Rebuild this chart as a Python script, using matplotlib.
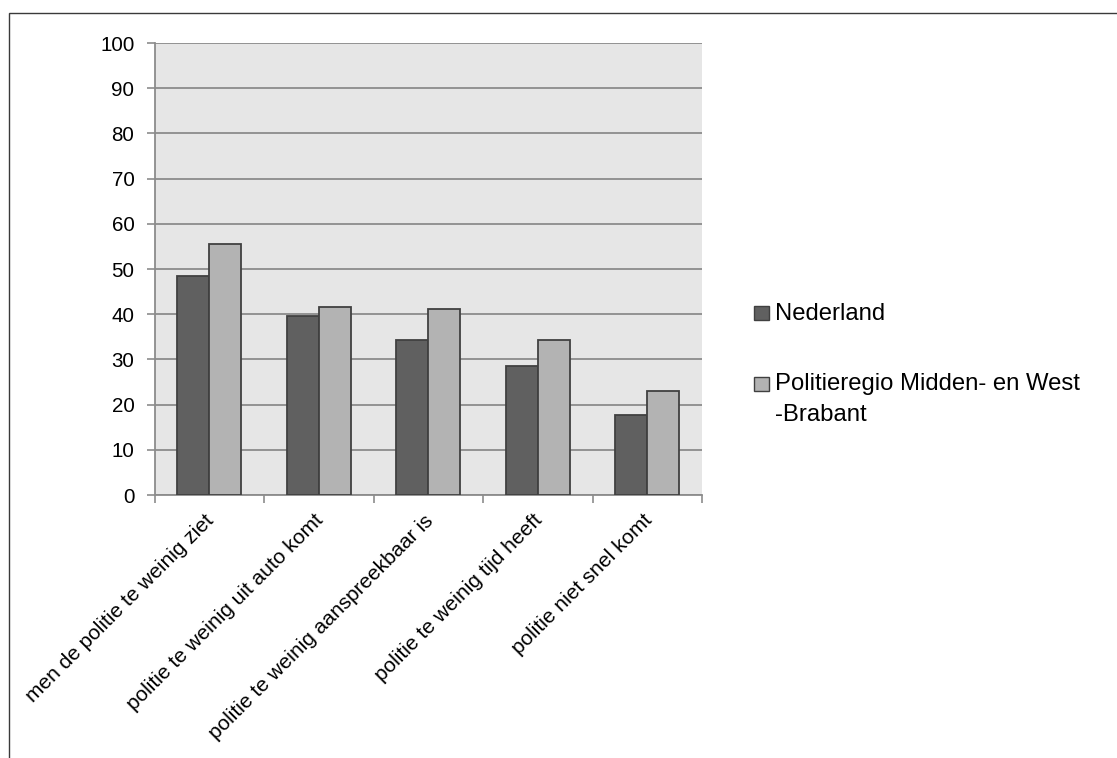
import matplotlib
matplotlib.use("Agg")
import matplotlib.pyplot as plt
import matplotlib.transforms as mtrans
from matplotlib.patches import Rectangle
import numpy as np

plt.rcParams['font.family'] = ['Liberation Sans', 'DejaVu Sans']

categories = [
    "men de politie te weinig ziet",
    "politie te weinig uit auto komt",
    "politie te weinig aanspreekbaar is",
    "politie te weinig tijd heeft",
    "politie niet snel komt",
]
series_names = ["Nederland", "Politieregio Midden- en West\n-Brabant"]
nederland = [48.5, 39.5, 34.4, 28.6, 17.6]
regio = [55.5, 41.6, 41.1, 34.4, 23.0]
y_ticks = list(range(0, 101, 10))

W, H = 1117, 758
fig = plt.figure(figsize=(W / 100, H / 100), dpi=100)
fig.patch.set_facecolor("white")

# outer chart frame
fig.patches.append(Rectangle((9 / W, -0.1), 1.2, 1 - 13 / H + 0.1,
                             transform=fig.transFigure, fill=False,
                             edgecolor="#3a3a3a", linewidth=1.0))

ax = fig.add_axes([154.5 / W, 1 - 495 / H, (702 - 154.5) / W, (495 - 43) / H])
ax.set_facecolor("#e6e6e6")

x = np.arange(len(categories))
w = 0.29
dark = "#606060"
light = "#b3b3b3"
edge = "#404040"
ax.bar(x - w / 2, nederland, w, color=dark, edgecolor=edge, linewidth=1.3, zorder=3)
ax.bar(x + w / 2, regio, w, color=light, edgecolor=edge, linewidth=1.3, zorder=3)

ax.set_ylim(0, 100)
ax.set_xlim(-0.5, len(categories) - 0.5)
ax.set_yticks(y_ticks)
ax.set_yticklabels([str(t) for t in y_ticks], fontsize=14.8)
ax.yaxis.grid(True, color="#8c8c8c", linewidth=1.3, zorder=1)
ax.set_axisbelow(True)

ax.set_xticks(np.arange(-0.5, len(categories), 1.0))
ax.set_xticklabels([])
ax.tick_params(axis="x", length=6, color="#8c8c8c", width=1.2)
ax.tick_params(axis="y", length=6, color="#8c8c8c", width=1.2, pad=8.4)

for sp in ["top", "right"]:
    ax.spines[sp].set_visible(False)
for sp in ["left", "bottom"]:
    ax.spines[sp].set_color("#8c8c8c")
    ax.spines[sp].set_linewidth(1.3)

# rotated category labels
offset = mtrans.ScaledTranslation(-5 / 100, -16 / 100, fig.dpi_scale_trans)
for i, c in enumerate(categories):
    ax.text(i, 0, c, rotation=45, ha="right", va="top", rotation_mode="anchor",
            fontsize=15, transform=ax.get_xaxis_transform() + offset)

# legend
legend_items = [(series_names[0], dark, 313, 320), (series_names[1], light, 383.5, 390)]
for name, col, yc, base in legend_items:
    fig.patches.append(Rectangle((754 / W, 1 - (yc + 7) / H), 15 / W, 14 / H,
                                 transform=fig.transFigure, facecolor=col,
                                 edgecolor=edge, linewidth=1.0))
    lines = name.split("\n")
    for k, line in enumerate(lines):
        fig.text(775 / W, 1 - (base + 31 * k) / H, line, fontsize=17.2,
                 ha="left", va="baseline")

fig.savefig("out.png", dpi=100)
